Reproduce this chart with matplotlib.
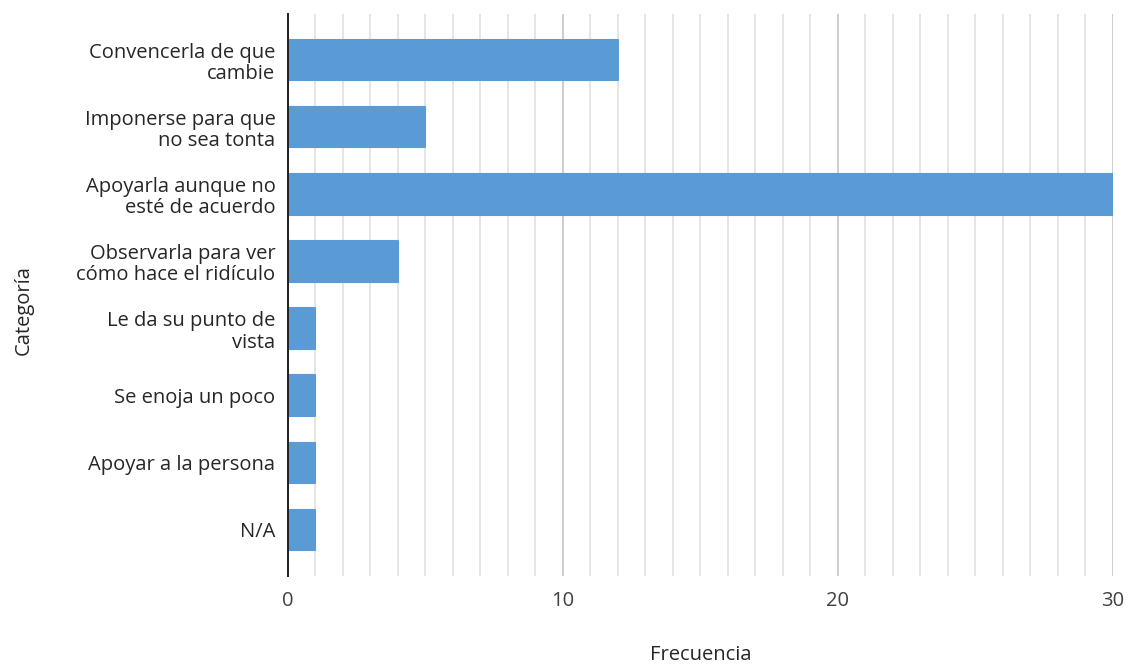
import numpy as np
import matplotlib.pyplot as plt
from matplotlib.ticker import MultipleLocator

categorias = [
    "Convencerla de que\ncambie",
    "Imponerse para que\nno sea tonta",
    "Apoyarla aunque no\nesté de acuerdo",
    "Observarla para ver\ncómo hace el ridículo",
    "Le da su punto de\nvista",
    "Se enoja un poco",
    "Apoyar a la persona",
    "N/A",
]
frecuencia = [12, 5, 30, 4, 1, 1, 1, 1]

plt.rcParams["font.family"] = ["Open Sans", "DejaVu Sans"]

fig = plt.figure(figsize=(11.28, 6.67), dpi=100)
ax = fig.add_axes([0.2553, 0.1364, 0.7314, 0.8426])

y = np.arange(len(categorias))
ax.barh(y, frecuencia, height=0.6, color="#5b9bd5", edgecolor="#5b9bd5",
        linewidth=1.5, joinstyle="round", zorder=3)

ax.set_xlim(0, 30)
ax.set_ylim(len(categorias) - 0.31, -0.69)
ax.set_yticks(y)
ax.set_yticklabels(categorias, fontsize=14.5, color="#262626", ha="right",
                   multialignment="right", linespacing=1.1)
ax.tick_params(axis="y", length=0, pad=9)

ax.xaxis.set_major_locator(MultipleLocator(10))
ax.xaxis.set_minor_locator(MultipleLocator(1))
ax.tick_params(axis="x", which="both", length=0, pad=11, labelsize=14.5,
               labelcolor="#404040")
ax.grid(axis="x", which="major", color="#c9c9c9", linewidth=1.3, zorder=0)
ax.grid(axis="x", which="minor", color="#e3e3e3", linewidth=1.3, zorder=0)

for s in ["top", "right", "bottom"]:
    ax.spines[s].set_visible(False)
ax.spines["left"].set_color("#202020")
ax.spines["left"].set_linewidth(1.4)
ax.spines["left"].set_zorder(4)

ax.set_xlabel("Frecuencia", fontsize=14.5, color="#262626", labelpad=24)
fig.text(0.021, 0.535, "Categoría", rotation=90, fontsize=14.5, color="#262626",
         ha="center", va="center")

fig.savefig("out.png", dpi=100, facecolor="white")
